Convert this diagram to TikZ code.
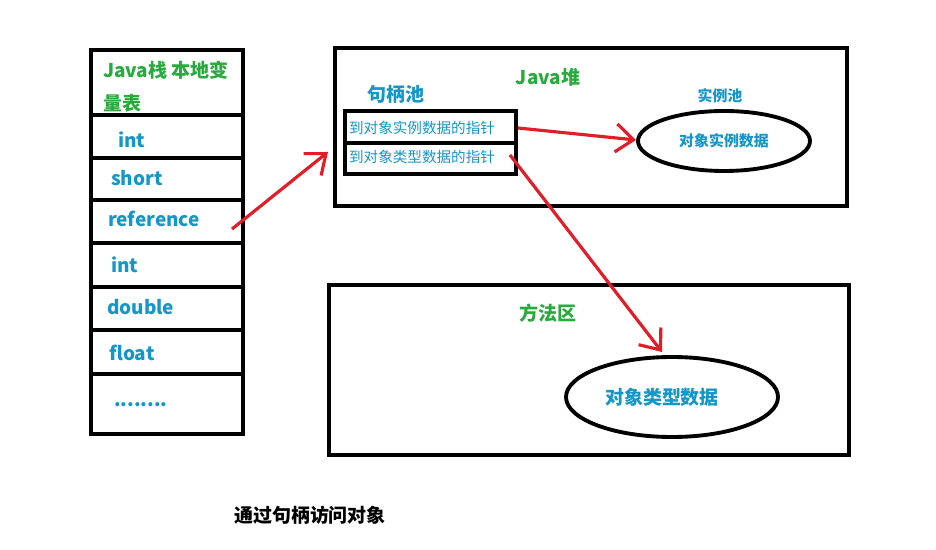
\documentclass[tikz,border=0pt]{standalone}
\usepackage{fontspec}
\setmainfont{Noto Sans CJK SC}
\usetikzlibrary{arrows.meta}
\definecolor{jgreen}{RGB}{40,170,60}
\definecolor{jblue}{RGB}{20,150,200}
\definecolor{jred}{RGB}{225,30,40}
\tikzset{
  box/.style={draw=black, line width=2.2pt},
  slot/.style={anchor=west, text=jblue, font=\bfseries\fontsize{10.8}{13}\selectfont},
  title/.style={text=jgreen, font=\bfseries\fontsize{10.8}{13}\selectfont},
  ptr/.style={anchor=west, text=jblue, font=\fontsize{8.3}{10}\selectfont, inner sep=1pt},
  link/.style={draw=jred, line width=1.8pt, -{Straight Barb[length=10pt,width=16pt,line width=1.8pt]}}
}
\begin{document}
\begin{tikzpicture}[x=0.02cm, y=-0.02cm]
  \useasboundingbox (0,0) rectangle (936,550);
  % stack
  \draw[box] (91,50) rectangle (243,434);
  \foreach \y in {115,158,200,243,287,330,374}
    \draw[box] (91,\y) -- (243,\y);
  \node[title, anchor=west] (stk) at (97,70) {Java栈 本地变};
  \node[title, anchor=west] (stk2) at (97,103) {量表};
  \node[slot] (s1) at (112,140) {int};
  \node[slot] (s2) at (105,178) {short};
  \node[slot] (s3) at (102,219) {reference};
  \node[slot] (s4) at (105,265) {int};
  \node[slot] (s5) at (101,307) {double};
  \node[slot] (s6) at (103,353) {float};
  \node[slot] (s7) at (108,405) {........};
  \coordinate (ref) at (232,229);
  % heap
  \draw[box] (335,48) rectangle (847,206);
  \node[title] (heap) at (548,77) {Java堆};
  \node[text=jblue, font=\bfseries\fontsize{10.8}{13}\selectfont] (pool) at (396,94) {句柄池};
  \draw[box] (345,111) rectangle (516,174);
  \draw[box] (345,143) -- (516,143);
  \node[ptr] (p1) at (347,128) {到对象实例数据的指针};
  \node[ptr] (p2) at (347,157) {到对象类型数据的指针};
  \node[text=jblue, font=\bfseries\fontsize{8.5}{10}\selectfont] (ipool) at (720,96) {实例池};
  \draw[box] (724,141) ellipse (86 and 30);
  \node[text=jblue, font=\bfseries\fontsize{8.5}{10}\selectfont] (inst) at (724,141) {对象实例数据};
  % method area
  \draw[box] (329,285) rectangle (849,455);
  \node[title] (meth) at (548,313) {方法区};
  \draw[box] (672,397) ellipse (106 and 40);
  \node[text=jblue, font=\bfseries\fontsize{10.8}{13}\selectfont] (type) at (662,397) {对象类型数据};
  \coordinate (heapin) at (328,152);
  \coordinate (instin) at (636,140);
  \coordinate (typein) at (662,352);
  % links
  \draw[link] (518,128) -- (instin);
  \draw[link] (ref) -- (heapin);
  \draw[link] (510,155) -- (typein);
  \node[font=\bfseries\fontsize{10.8}{13}\selectfont] (cap) at (310,515) {通过句柄访问对象};
\end{tikzpicture}
\end{document}
